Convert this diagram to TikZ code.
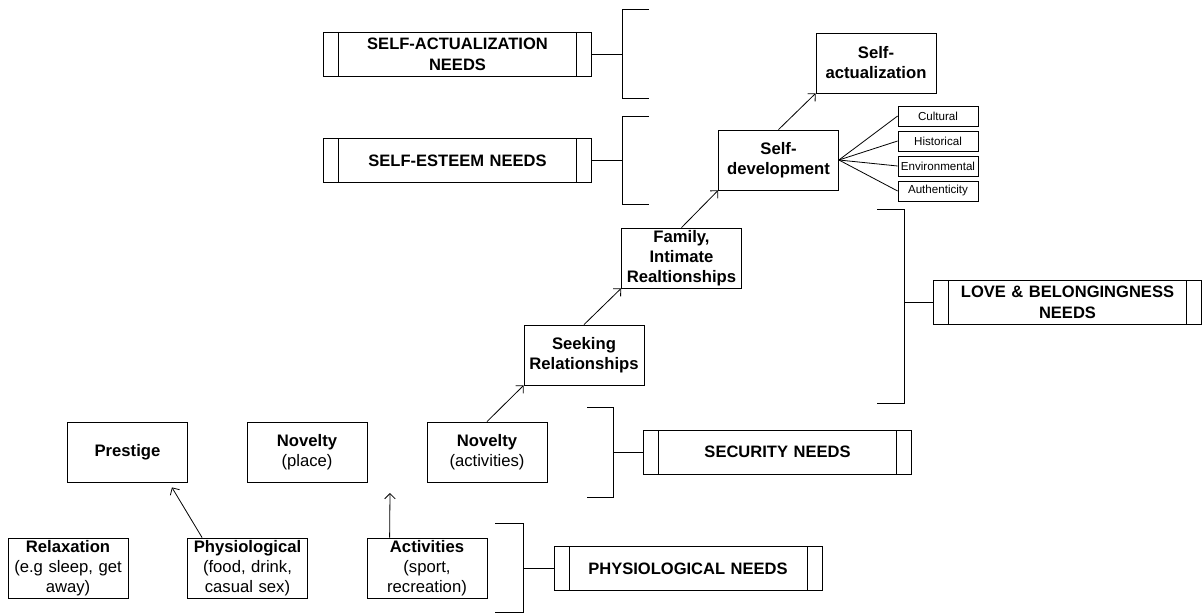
\documentclass[tikz,border=0pt]{standalone}
\usepackage{fontspec}
\setmainfont{Liberation Sans}
\usetikzlibrary{arrows.meta}
\tikzstyle{box} = [rectangle, minimum width=90pt, minimum height=45pt, inner sep=1pt, text width=88pt, align=center, draw=black, line width=0.6pt, font=\fontsize{12.5}{15}\selectfont]
\tikzstyle{small} = [rectangle, minimum width=60pt, minimum height=15pt, inner sep=0pt, align=center, draw=black, line width=0.6pt, font=\fontsize{8.7}{10}\selectfont]
\tikzstyle{needs} = [rectangle, minimum width=201pt, minimum height=33pt, inner sep=2pt, text width=170pt, align=center, draw=black, line width=0.6pt, font=\bfseries\fontsize{12.4}{16}\selectfont,
  path picture={\draw ([xshift=11.25pt]path picture bounding box.north west) -- ([xshift=11.25pt]path picture bounding box.south west);
                \draw ([xshift=-11.25pt]path picture bounding box.north east) -- ([xshift=-11.25pt]path picture bounding box.south east);}]
\tikzstyle{arrow} = [line width=0.6pt, ->, >={Straight Barb[length=4pt,width=8pt]}]
\tikzstyle{line} = [line width=0.6pt]

\begin{document}
\begin{tikzpicture}[x=0.75pt, y=-0.75pt]
          \useasboundingbox (0,0) rectangle (1203,613);
          % motivations
          \node (prestige) [box] at (127.5,452) {\textbf{Prestige}};
          \node (novplace) [box] at (307,452) {\textbf{Novelty}\\(place)};
          \node (novact) [box] at (487,452) {\textbf{Novelty}\\(activities)};
          \node (relax) [box] at (68,568) {\textbf{Relaxation}\\(e.g sleep, get\\away)};
          \node (physio) [box] at (247.5,568) {\textbf{Physiological}\\(food, drink,\\casual sex)};
          \node (act) [box] at (427,568) {\textbf{Activities}\\(sport,\\recreation)};
          \node (seek) [box] at (584,355) {\textbf{Seeking}\\\textbf{Relationships}};
          \node (family) [box] at (681.5,258) {\textbf{Family,}\\\textbf{Intimate}\\\textbf{Realtionships}};
          \node (selfdev) [box] at (778.5,160) {\textbf{Self-}\\\textbf{development}};
          \node (selfact) [box] at (876,63) {\textbf{Self-}\\\textbf{actualization}};
          \node (cult) [small] at (938,116) {Cultural};
          \node (hist) [small] at (938,141) {Historical};
          \node (env) [small] at (938,166) {Environmental};
          \node (auth) [small] at (938,191) {Authenticity};
          % needs
          \node (saneeds) [needs] at (457.5,54) {SELF-ACTUALIZATION\\NEEDS};
          \node (seneeds) [needs] at (457.5,160.5) {SELF-ESTEEM NEEDS};
          \node (loveneeds) [needs] at (1067.5,302.5) {LOVE \& BELONGINGNESS\\NEEDS};
          \node (secneeds) [needs] at (777.5,452) {SECURITY NEEDS};
          \node (phneeds) [needs] at (688,568.5) {PHYSIOLOGICAL NEEDS};
          \coordinate (sabr) at (622,54);
          \coordinate (sebr) at (622,160.5);
          \coordinate (lovebr) at (904,302.5);
          \coordinate (secbr) at (613,452);
          \coordinate (phbr) at (523,568.5);
          \coordinate (actup) at (390,493);
          % brackets
          \draw [line] (649,9) -| (622,98) -- (649,98);
          \draw [line] (649,116) -| (622,204) -- (649,204);
          \draw [line] (877,209) -| (904,403) -- (877,403);
          \draw [line] (587,407) -| (613,497) -- (587,497);
          \draw [line] (495,523) -| (523,612) -- (495,612);
          \draw [line] (saneeds.east) -- (sabr);
          \draw [line] (seneeds.east) -- (sebr);
          \draw [line] (lovebr) -- (loveneeds.west);
          \draw [line] (secbr) -- (secneeds.west);
          \draw [line] (phbr) -- (phneeds.west);
          % arrows
          \draw [arrow] ([xshift=11.25pt]physio.north west) -- ([xshift=-12pt,yshift=-3.75pt]prestige.south east);
          \draw [arrow] ([xshift=17.25pt]act.north west) -- (actup);
          \draw [arrow] (novact.north) -- (seek.south west);
          \draw [arrow] (seek.north) -- (family.south west);
          \draw [arrow] (family.north) -- (selfdev.south west);
          \draw [arrow] (selfdev.north) -- (selfact.south west);
          \draw [line] (selfdev.east) -- (cult.west);
          \draw [line] (selfdev.east) -- (hist.west);
          \draw [line] (selfdev.east) -- (env.west);
          \draw [line] (selfdev.east) -- (auth.west);
        \end{tikzpicture}
\end{document}
